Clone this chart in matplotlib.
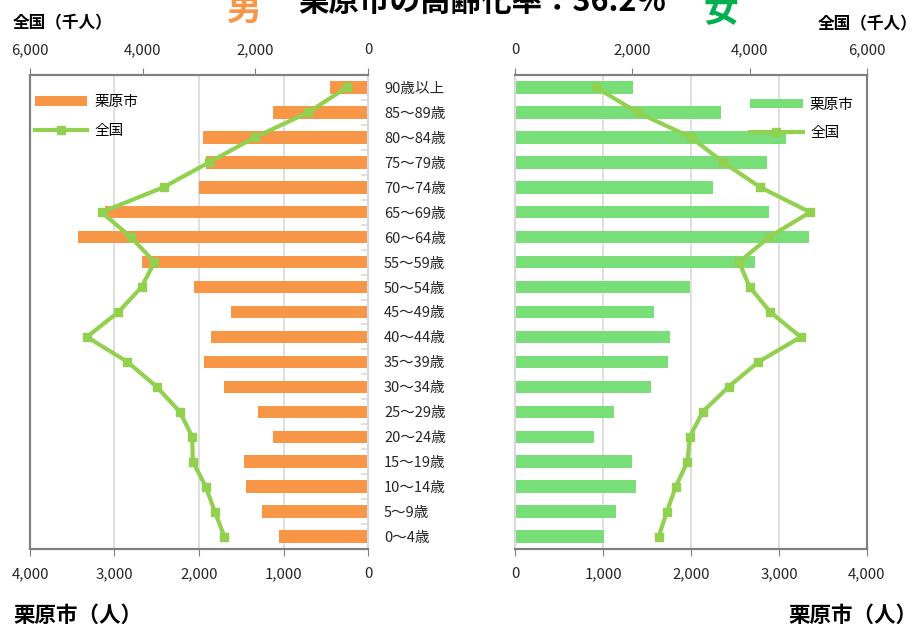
import numpy as np
import matplotlib.pyplot as plt
from matplotlib.ticker import FuncFormatter

plt.rcParams['font.family'] = ['Noto Sans CJK JP', 'DejaVu Sans']

# age groups, youngest first
ages = ['0～4歳', '5～9歳', '10～14歳', '15～19歳', '20～24歳', '25～29歳',
        '30～34歳', '35～39歳', '40～44歳', '45～49歳', '50～54歳', '55～59歳',
        '60～64歳', '65～69歳', '70～74歳', '75～79歳', '80～84歳', '85～89歳',
        '90歳以上']

# 栗原市 (people)
male_city = [1050, 1260, 1440, 1470, 1130, 1300, 1710, 1940, 1860, 1620,
             2060, 2670, 3430, 3110, 2000, 1920, 1950, 1130, 450]
female_city = [1010, 1150, 1370, 1330, 900, 1120, 1550, 1740, 1760, 1580,
               1990, 2730, 3340, 2890, 2250, 2860, 3080, 2340, 1340]

# 全国 (thousand people)
male_nat = [2550, 2720, 2880, 3110, 3120, 3340, 3750, 4270, 4990, 4430,
            4020, 3790, 4210, 4730, 3630, 2820, 2010, 1060, 380]
female_nat = [2450, 2590, 2740, 2940, 2980, 3200, 3640, 4150, 4870, 4350,
              4000, 3820, 4330, 5030, 4180, 3550, 3000, 2090, 1380]

orange = '#F79646'
green_bar = '#77DE78'
green_line = '#92D050'
dark = '#808080'
light = '#D9D9D9'
txt = '#262626'

fig = plt.figure(figsize=(9.18, 6.26), dpi=100)
W, H = 918, 626
bot = (H - 549) / H
hgt = 474 / H
ax1 = fig.add_axes([30 / W, bot, 338 / W, hgt])
ax2 = fig.add_axes([515 / W, bot, 352 / W, hgt])

y = np.arange(len(ages))
comma = FuncFormatter(lambda v, p: '{:,.0f}'.format(v))


def setup(ax, city, nat, color, left_side):
    ax.barh(y, city, height=0.5, color=color, label='栗原市', zorder=2)
    ax.set_ylim(-0.5, len(ages) - 0.5)
    if left_side:
        ax.set_xlim(4000, 0)
    else:
        ax.set_xlim(0, 4000)
    ax.set_xticks(np.arange(0, 4001, 1000))
    ax.xaxis.set_major_formatter(comma)
    ax.grid(axis='x', color=light, lw=1.2)
    ax.set_axisbelow(True)
    ax.tick_params(axis='x', direction='out', length=5, color=dark,
                   labelsize=10.8, labelcolor=txt, pad=8)
    for s in ax.spines.values():
        s.set_color(dark)
        s.set_linewidth(1.5)

    axt = ax.twiny()
    axt.plot(nat, y, color=green_line, lw=3, marker='s', ms=6,
             label='全国', zorder=3)
    if left_side:
        axt.set_xlim(6000, 0)
    else:
        axt.set_xlim(0, 6000)
    axt.set_xticks(np.arange(0, 6001, 2000))
    axt.xaxis.set_major_formatter(comma)
    axt.tick_params(axis='x', direction='out', length=5, color=dark,
                    labelsize=10.8, labelcolor=txt, pad=8)
    for s in axt.spines.values():
        s.set_color(dark)
        s.set_linewidth(1.5)
    inner = 'right' if left_side else 'left'
    axt.spines[inner].set_color(light)
    ax.spines[inner].set_color(light)

    if left_side:
        ax.yaxis.tick_right()
        ax.set_yticks(y)
        ax.set_yticklabels(ages)
        ax.set_yticks(np.arange(-0.5, len(ages), 1), minor=True)
        ax.tick_params(axis='y', which='major', length=0, pad=11.5,
                       labelsize=10.5, labelcolor=txt)
        ax.tick_params(axis='y', which='minor', direction='in', length=5,
                       color=light, width=1.2)
    else:
        ax.set_yticks([])

    h1, l1 = ax.get_legend_handles_labels()
    h2, l2 = axt.get_legend_handles_labels()
    if left_side:
        loc, anchor = 'upper left', (-0.025, 0.985)
    else:
        loc, anchor = 'upper right', (1.0, 0.98)
    axt.legend(h1 + h2, l1 + l2, loc=loc, bbox_to_anchor=anchor,
               frameon=False, fontsize=10.5, handlelength=3.6,
               handleheight=0.6, labelspacing=1.0, handletextpad=0.5)
    return axt


setup(ax1, male_city, male_nat, orange, True)
setup(ax2, female_city, female_nat, green_bar, False)

fig.text(482 / W, 1 - 12 / H, '栗原市の高齢化率：36.2%', ha='center',
         va='baseline', fontsize=22, fontweight='bold', color='black')
fig.text(244 / W, 1 - 20 / H, '男', ha='center', va='baseline',
         fontsize=25, fontweight='bold', color=orange)
fig.text(721 / W, 1 - 22 / H, '女', ha='center', va='baseline',
         fontsize=25, fontweight='bold', color='#00B050')

fig.text(13 / W, 1 - 23 / H, '全国（千人）', ha='left', va='center',
         fontsize=12, fontweight='bold', color='black')
fig.text(917 / W, 1 - 24 / H, '全国（千人）', ha='right', va='center',
         fontsize=12, fontweight='bold', color='black')
fig.text(13 / W, 1 - 615 / H, '栗原市（人）', ha='left', va='center',
         fontsize=15.5, fontweight='bold', color='black')
fig.text(917 / W, 1 - 615 / H, '栗原市（人）', ha='right', va='center',
         fontsize=15.5, fontweight='bold', color='black')

fig.savefig('out.png', dpi=100)
